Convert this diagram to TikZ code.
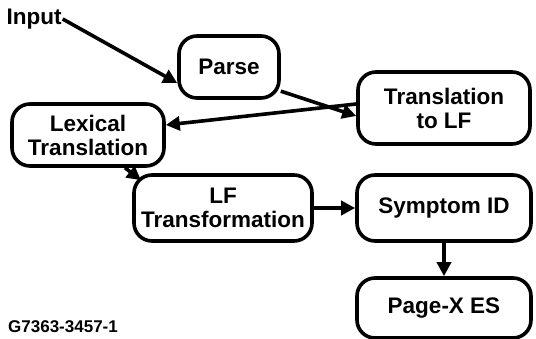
\documentclass[tikz,border=0pt]{standalone}
\usepackage{fontspec}
\setmainfont{Liberation Sans}
\usetikzlibrary{arrows.meta}
\begin{document}
\begin{tikzpicture}[x=1pt,y=-1pt,
  box/.style={draw,line width=3.6pt,rounded corners=18pt,align=center,inner sep=0pt,
    font=\fontsize{22.5}{24}\selectfont\bfseries},
  arr/.style={line width=3.6pt,-{Triangle[length=14pt,width=14pt]}},
  lbl/.style={inner sep=0pt,font=\fontsize{22.5}{24}\selectfont\bfseries}]
\useasboundingbox (0,0) rectangle (536,339);
\node[lbl] (inp) at (34,19) {Input};
\node[box,minimum width=100,minimum height=62] (parse) at (229,67) {Parse};
\node[box,minimum width=172,minimum height=72] (tlf) at (444,108) {Translation\\to LF};
\node[box,minimum width=152,minimum height=62] (lex) at (88,135) {Lexical\\Translation};
\node[box,minimum width=178,minimum height=66] (lft) at (223,208) {LF\\Transformation};
\node[box,minimum width=174,minimum height=66] (sym) at (444,208) {Symptom ID};
\node[box,minimum width=174,minimum height=60] (page) at (444,308) {Page-X ES};
\node[inner sep=0pt,anchor=base west,font=\fontsize{17}{19}\selectfont\bfseries] (code) at (8,333) {G7363-3457-1};
\draw[arr] ([xshift=1]inp.east) -- ([yshift=-16]parse.west);
\draw[arr] (parse.-25) -- ([yshift=-8]tlf.west);
\draw[arr] ([yshift=4]tlf.west) -- ([yshift=10]lex.east);
\draw[arr] ([xshift=37]lex.south) -- ([xshift=-82,yshift=-7]lft.north);
\draw[arr] (lft.east) -- (sym.west);
\draw[arr] (sym.south) -- (page.north);
\end{tikzpicture}
\end{document}
